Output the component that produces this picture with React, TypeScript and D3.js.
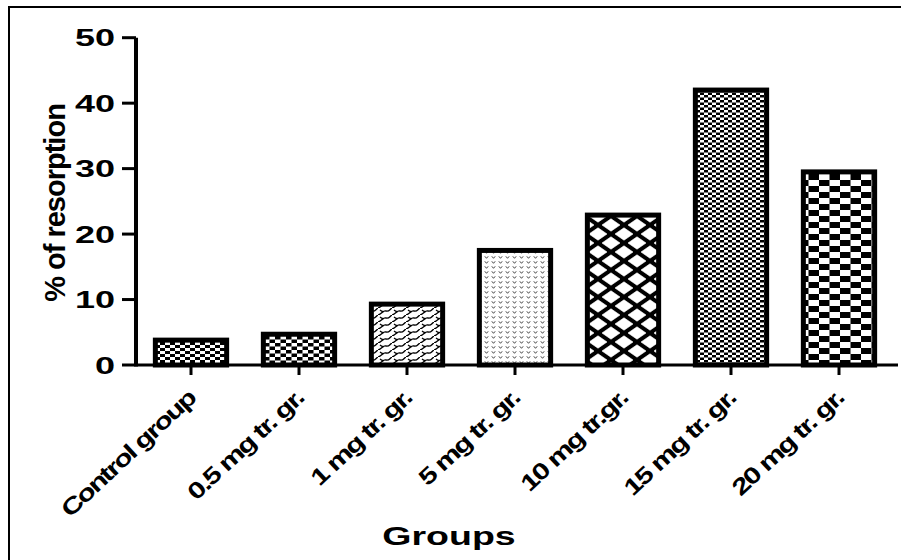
import React from "react";
import { scaleBand, scaleLinear } from "d3";

const categories = [
  "Control group",
  "0.5 mg tr. gr.",
  "1 mg tr. gr.",
  "5 mg tr. gr.",
  "10 mg tr.gr.",
  "15 mg tr. gr.",
  "20 mg tr. gr.",
];
const values = [3.8, 4.7, 9.3, 17.5, 22.9, 42.0, 29.5];
const yTicks = [0, 10, 20, 30, 40, 50];
const patternIds = ["p1", "p2", "p3", "p4", "p5", "p6", "p7"];

const W = 901;
const H = 560;
const font = "'Liberation Sans', Arial, sans-serif";

export default function App() {
  const x = scaleBand<string>()
    .domain(categories)
    .range([137, 893])
    .paddingInner(0.34)
    .paddingOuter(0.17);
  const y = scaleLinear().domain([0, 50]).range([365, 37.7]);

  const axisX = 136;
  const baseY = y(0);

  // lattice of white diamonds for the 10 mg bar
  const diamonds = [
    [0, 0],
    [26, 0],
    [0, 18],
    [26, 18],
    [13, 9],
  ];

  return (
    <svg
      width={W}
      height={H}
      viewBox={`0 0 ${W} ${H}`}
      style={{ position: "absolute", left: 0, top: 0, background: "#fff" }}
    >
      <defs>
        {/* fine checker */}
        <pattern id="p1" patternUnits="userSpaceOnUse" width={10} height={6}>
          <rect width={10} height={6} fill="#fff" />
          <rect x={0} y={0} width={5} height={3} fill="#000" />
          <rect x={5} y={3} width={5} height={3} fill="#000" />
        </pattern>
        <pattern id="p2" patternUnits="userSpaceOnUse" width={11} height={7}>
          <rect width={11} height={7} fill="#fff" />
          <rect x={0} y={0} width={5.5} height={3.5} fill="#000" />
          <rect x={5.5} y={3.5} width={5.5} height={3.5} fill="#000" />
        </pattern>
        {/* wavy diagonal hatch */}
        <pattern id="p3" patternUnits="userSpaceOnUse" width={14} height={7}>
          <rect width={14} height={7} fill="#fff" />
          <path d="M0,7 C4,6 5,2 8,3 S12,1 14,0" stroke="#000" strokeWidth={1.4} fill="none" />
          <path d="M2,2 Q4,4 6,3.5" stroke="#000" strokeWidth={1.1} fill="none" />
        </pattern>
        {/* sparse v marks */}
        <pattern id="p4" patternUnits="userSpaceOnUse" width={7} height={5}>
          <rect width={7} height={5} fill="#fff" />
          <path d="M1.8,1.3 L3.5,3.3 L5.2,1.3" stroke="#333" strokeWidth={0.9} fill="none" />
        </pattern>
        {/* diamond lattice */}
        <pattern id="p5" patternUnits="userSpaceOnUse" width={26} height={18}>
          <rect width={26} height={18} fill="#000" />
          {diamonds.map(([cx, cy], i) => (
            <path
              key={i}
              d={`M${cx - 9},${cy} L${cx},${cy - 6.2} L${cx + 9},${cy} L${cx},${cy + 6.2} Z`}
              fill="#fff"
              stroke="#fff"
              strokeWidth={0.6}
              strokeLinejoin="round"
            />
          ))}
        </pattern>
        {/* dense dash checker */}
        <pattern id="p6" patternUnits="userSpaceOnUse" width={8} height={5}>
          <rect width={8} height={5} fill="#fff" />
          <rect x={0} y={0} width={4} height={2.5} fill="#000" />
          <rect x={4} y={2.5} width={4} height={2.5} fill="#000" />
        </pattern>
        {/* large checker */}
        <pattern id="p7" patternUnits="userSpaceOnUse" width={21} height={12}>
          <rect width={21} height={12} fill="#fff" />
          <rect x={0} y={0} width={10.5} height={6} fill="#000" />
          <rect x={10.5} y={6} width={10.5} height={6} fill="#000" />
        </pattern>
      </defs>

      {/* outer frame */}
      <rect x={9} y={7} width={1000} height={1000} fill="none" stroke="#000" strokeWidth={2} />

      {/* bars */}
      {categories.map((c, i) => (
        <rect
          key={c}
          x={x(c)}
          y={y(values[i])}
          width={x.bandwidth()}
          height={baseY - y(values[i])}
          fill={`url(#${patternIds[i]})`}
          stroke="#000"
          strokeWidth={5}
        />
      ))}

      {/* y axis */}
      <line x1={axisX} x2={axisX} y1={y(50)} y2={baseY + 1.5} stroke="#000" strokeWidth={4} />
      {yTicks.map((t) => (
        <g key={t}>
          <line x1={122} x2={axisX} y1={y(t)} y2={y(t)} stroke="#000" strokeWidth={3} />
          <text
            transform={`translate(115, ${y(t)}) scale(1.5, 1)`}
            textAnchor="end"
            dominantBaseline="central"
            fontFamily={font}
            fontWeight="bold"
            fontSize={24}
          >
            {t}
          </text>
        </g>
      ))}

      {/* x axis */}
      <line x1={axisX} x2={898} y1={baseY} y2={baseY} stroke="#000" strokeWidth={3} />
      {categories.map((c) => {
        const cx = (x(c) ?? 0) + x.bandwidth() / 2;
        return (
          <g key={c}>
            <line x1={cx} x2={cx} y1={baseY} y2={baseY + 10} stroke="#000" strokeWidth={3} />
            <text
              transform={`translate(${cx + 6}, 400) rotate(-43) scale(1.3, 1)`}
              textAnchor="end"
              fontFamily={font}
              fontWeight="bold"
              fontSize={23}
              letterSpacing={-1.5}
            >
              {c}
            </text>
          </g>
        );
      })}

      {/* axis titles */}
      <text
        transform={`translate(65, 203) rotate(-90)`}
        textAnchor="middle"
        fontFamily={font}
        fontWeight="bold"
        fontSize={29}
        letterSpacing={-1}
      >
        % of resorption
      </text>
      <text
        transform={`translate(449, 545) scale(1.5, 1)`}
        textAnchor="middle"
        fontFamily={font}
        fontWeight="bold"
        fontSize={25}
      >
        Groups
      </text>
    </svg>
  );
}
